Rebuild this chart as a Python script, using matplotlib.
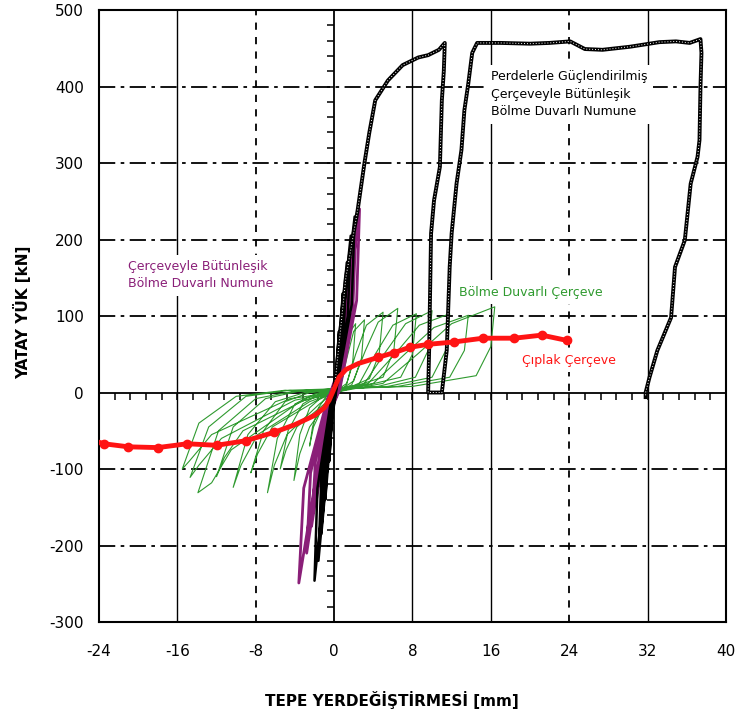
import matplotlib.pyplot as plt
import numpy as np

plt.rcParams['axes.unicode_minus'] = False

# --- Çıplak Çerçeve (red) ---
bare_x = [-24.0, -23.5, -21.0, -18.0, -15.0, -12.0, -9.0, -6.1, -4.0, -2.0, -1.0, -0.5,
          0.0, 0.5, 1.2, 2.5, 4.5, 6.1, 7.7, 9.6, 12.2, 15.2, 18.4, 21.2, 23.8]
bare_y = [-65, -67, -71, -72, -67, -69, -63, -52, -42, -30, -20, -10,
          5, 20, 30, 38, 46, 52, 59, 63, 66, 71, 71, 75, 68]
bare_marks = [1, 2, 3, 4, 5, 6, 7, 16, 17, 18, 19, 20, 21, 22, 23, 24]

# --- Bölme Duvarlı Çerçeve (green), one list per half cycle ---
green_pos = [
    ([0.1, 0.5, 0.8, 1.2, 1.0, 0.6, 0.0], [3, 30, 55, 65, 25, 8, 0]),
    ([0.3, 0.9, 1.4, 2.2, 1.9, 1.3, 0.3], [5, 40, 75, 90, 40, 12, 3]),
    ([0.6, 1.3, 2.0, 3.1, 2.8, 2.0, 0.8, 0.0], [6, 45, 80, 95, 45, 15, 5, 0]),
    ([1.2, 2.2, 3.3, 5.0, 4.6, 3.6, 1.8, 0.2], [8, 50, 88, 105, 50, 18, 8, 3]),
    ([1.8, 3.2, 4.5, 6.5, 6.1, 5.0, 2.5, 0.3], [10, 55, 92, 110, 55, 20, 10, 4]),
    ([2.5, 4.2, 6.0, 8.4, 8.0, 6.8, 3.5, 0.4], [10, 50, 88, 103, 50, 20, 10, 5]),
    ([3.0, 5.2, 7.3, 10.0, 9.6, 8.3, 4.5, 0.5], [10, 52, 90, 107, 55, 20, 8, 4]),
    ([3.5, 6.2, 8.7, 11.8, 11.4, 10.0, 5.5, 0.5], [12, 50, 88, 103, 55, 20, 8, 5]),
    ([4.0, 7.2, 10.2, 13.7, 13.3, 11.8, 6.5, 0.6], [12, 50, 85, 101, 55, 20, 8, 5]),
    ([5.0, 8.5, 12.0, 16.4, 16.0, 14.5, 8.0, 0.6], [12, 50, 90, 112, 60, 22, 8, 5]),
]
green_neg = [
    ([-0.3, -0.6, -1.0, -0.7, -0.2, 0.1], [-5, -20, -45, -25, -8, 0]),
    ([-0.8, -1.6, -2.2, -2.5, -2.1, -1.2, 0.0], [-5, -20, -45, -70, -45, -20, 0]),
    ([-1.0, -2.5, -3.5, -4.1, -3.5, -2.5, -0.8, 0.0], [-3, -20, -55, -115, -80, -45, -15, 0]),
    ([-1.5, -3.2, -4.7, -5.5, -4.9, -3.8, -1.0, 0.0], [-2, -15, -50, -100, -75, -45, -15, 0]),
    ([-2.0, -4.0, -5.8, -6.8, -6.1, -4.8, -1.5, 0.0], [-2, -15, -60, -131, -95, -55, -15, 0]),
    ([-2.5, -5.0, -7.2, -8.5, -7.8, -6.3, -2.0, 0.0], [0, -12, -50, -105, -80, -45, -12, 0]),
    ([-3.0, -6.0, -8.8, -10.3, -9.5, -7.8, -2.5, 0.0], [0, -12, -55, -124, -95, -55, -12, 0]),
    ([-3.5, -7.0, -10.3, -12.0, -11.2, -9.3, -3.0, 0.0], [2, -8, -45, -110, -85, -50, -10, 0]),
    ([-4.0, -8.0, -11.8, -13.9, -12.5, -10.5, -3.5, 0.0], [2, -8, -50, -131, -118, -75, -12, 0]),
    ([-4.5, -9.0, -12.8, -14.7, -13.8, -11.5, -4.0, 0.0], [3, -5, -45, -111, -95, -60, -10, 0]),
    ([-5.0, -10.0, -13.8, -15.5, -14.8, -12.5, -4.5, 0.0], [3, -5, -40, -100, -90, -55, -8, 0]),
]

# --- Çerçeveyle Bütünleşik Bölme Duvarlı Numune (purple) ---
purple_x = [0.0, 0.3, 0.6, 0.4, 0.1, -0.3, -0.8, -0.5, -0.1,
            0.3, 1.0, 0.7, 0.2, -0.4, -1.3, -1.0, -0.2,
            0.4, 1.4, 1.1, 0.3, -0.5, -1.8, -1.4, -0.3,
            0.5, 1.8, 1.5, 0.4, -0.6, -2.3, -1.9, -0.4,
            0.6, 2.2, 1.9, 0.5, -0.8, -2.8, -2.4, -0.5,
            0.7, 2.6, 2.3, 0.6, -1.0, -3.6, -3.1, -0.6, 0.0]
purple_y = [0, 20, 60, 30, 3, -20, -60, -30, -3,
            20, 100, 50, 5, -25, -100, -50, -5,
            25, 140, 70, 5, -30, -140, -70, -5,
            30, 175, 90, 5, -35, -175, -90, -5,
            35, 205, 105, 5, -40, -210, -105, -5,
            40, 240, 120, 5, -45, -249, -125, -5, 0]

# --- Perdelerle Güçlendirilmiş ... Numune (black) ---
black_cyc_x = [0.0, 0.2, 0.5, 0.3, 0.05, -0.15, -0.5, -0.3, -0.05,
               0.25, 0.9, 0.6, 0.1, -0.2, -0.9, -0.6, -0.1,
               0.3, 1.3, 1.0, 0.15, -0.25, -1.3, -1.0, -0.15,
               0.35, 1.7, 1.4, 0.2, -0.3, -1.6, -1.3, -0.2,
               0.4, 2.1, 1.8, 0.25, -0.35, -2.0, -1.7, -0.25, 0.0]
black_cyc_y = [0, 25, 80, 40, 3, -25, -90, -45, -3,
               30, 130, 65, 4, -30, -140, -70, -4,
               35, 170, 85, 5, -35, -185, -95, -5,
               40, 205, 100, 5, -40, -220, -110, -5,
               45, 230, 115, 5, -45, -246, -125, -5, 0]
black_env_x = [0.0, 1.2, 2.4, 3.1, 3.6, 4.2, 5.5, 7.0, 8.6, 9.6, 10.7, 11.3,
               11.2, 11.0, 10.8, 10.2, 9.9, 9.7, 9.6, 11.0,
               11.5, 11.8, 12.0, 12.5, 13.0, 13.3, 13.7, 14.1, 14.6,
               17.0, 20.0, 22.0, 24.1, 25.6, 27.4, 30.2, 33.2, 34.9, 36.3, 37.4,
               37.5, 37.4, 37.3, 37.1, 36.4, 35.8, 34.8, 34.4, 33.0, 32.2, 31.8, 31.8]
black_env_y = [0, 150, 238, 300, 340, 382, 408, 428, 438, 441, 448, 457,
               420, 382, 295, 251, 208, 55, 0, 0,
               55, 164, 208, 273, 317, 369, 404, 444, 457,
               457, 456, 457, 459, 449, 448, 452, 458, 459, 457, 462,
               444, 399, 330, 308, 273, 199, 164, 98, 55, 20, 0, -6]

x_major = [-24, -16, -8, 0, 8, 16, 24, 32, 40]
y_major = [-300, -200, -100, 0, 100, 200, 300, 400, 500]

fig = plt.figure(figsize=(7.37, 7.21), dpi=100)
ax = fig.add_axes([0.1343, 0.1373, 0.8507, 0.8488])
ax.set_xlim(-24, 40)
ax.set_ylim(-300, 500)

# grid
for yv in [-200, -100, 100, 200, 300, 400]:
    ax.axhline(yv, color='black', lw=1.3, ls=(0, (9, 3, 2, 3)), zorder=1)
for xv in [-16, 8, 16, 32]:
    ax.axvline(xv, color='black', lw=1.0, zorder=1)
for xv in [-8, 24]:
    ax.axvline(xv, color='black', lw=1.3, ls=(0, (4, 4)), zorder=1)
ax.axhline(0, color='black', lw=1.3, zorder=1)
ax.axvline(0, color='black', lw=1.3, zorder=1)
ax.plot(np.arange(-24, 40.01, 1.6), np.zeros(41), ls='', marker=3, ms=5, mew=1.1,
        color='black', zorder=1, clip_on=False)
ax.plot(np.zeros(41), np.arange(-300, 500.1, 20), ls='', marker=0, ms=5, mew=1.1,
        color='black', zorder=1)

# curves
gx, gy = [], []
for (px, py), (nx, ny) in zip(green_pos + [([], [])], green_neg):
    gx += px + nx
    gy += py + ny
ax.plot(gx, gy, color='#2f9a2f', lw=0.8, zorder=3)

ax.plot(purple_x, purple_y, color='#8a1f78', lw=2.0, zorder=4)
ax.plot(black_cyc_x, black_cyc_y, color='black', lw=1.8, zorder=5)
ax.plot(black_env_x, black_env_y, color='black', lw=2.8, zorder=5)
ax.plot(black_env_x, black_env_y, color='white', lw=0.7, ls=(0, (1, 2)), zorder=5)

ax.plot(bare_x, bare_y, color='#ff1414', lw=3.5, marker='o', ms=6,
        markevery=bare_marks, zorder=6)

# annotations
box = dict(facecolor='white', edgecolor='none', pad=4)
ax.text(16.0, 421, 'Perdelerle Güçlendirilmiş\nÇerçeveyle Bütünleşik\nBölme Duvarlı Numune',
        fontsize=9, color='black', ha='left', va='top', linespacing=1.45, bbox=box, zorder=2)
ax.text(-21.0, 173, 'Çerçeveyle Bütünleşik\nBölme Duvarlı Numune',
        fontsize=9, color='#8a1f78', ha='left', va='top', linespacing=1.4, bbox=box, zorder=2)
ax.text(12.8, 131, 'Bölme Duvarlı Çerçeve', fontsize=9, color='#2f9a2f',
        ha='left', va='center', bbox=box, zorder=2)
ax.text(19.2, 42, 'Çıplak Çerçeve', fontsize=9, color='#ff1414',
        ha='left', va='center', bbox=box, zorder=2)

ax.set_xticks(x_major)
ax.set_yticks(y_major)
ax.tick_params(length=0, labelsize=11)
ax.tick_params(axis='x', pad=16)
ax.tick_params(axis='y', pad=11)
for s in ax.spines.values():
    s.set_linewidth(1.5)

fig.text(0.532, 0.029, 'TEPE YERDEĞİŞTİRMESİ [mm]', fontsize=11, fontweight='bold',
         ha='center', va='center')
fig.text(0.030, 0.567, 'YATAY YÜK [kN]', fontsize=11, fontweight='bold',
         rotation=90, ha='center', va='center')

fig.savefig('out.png', dpi=100)
